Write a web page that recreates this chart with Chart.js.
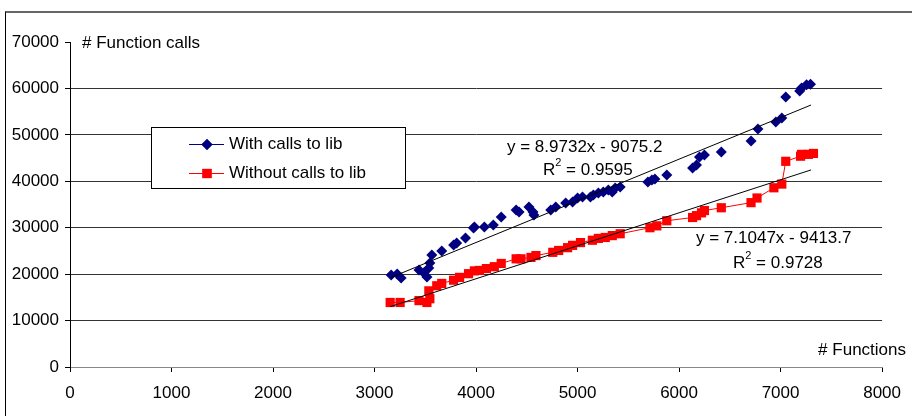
<!DOCTYPE html>
<html>
<head>
<meta charset="utf-8">
<script src="https://cdn.jsdelivr.net/npm/chart.js@4.4.1/dist/chart.umd.min.js"></script>
<style>
    html, body { margin: 0; padding: 0; background: #fff; }
    #wrap { position: relative; width: 912px; height: 416px; overflow: hidden; }
    #frame { position: absolute; left: 5px; top: 11px; right: -2px; bottom: -2px;
             border-left: 1px solid #000; border-top: 2px solid #666; }
    canvas { position: absolute; left: 0; top: 0; }
</style>
</head>
<body>
<div id="wrap">
    <div id="frame"></div>
    <canvas id="chart" width="912" height="416"></canvas>
</div>
<script>
// Series: number of functions vs number of function calls
const withCallsX = [3164, 3223, 3262, 3438, 3486, 3516, 3535, 3545, 3564, 3662,
    3779, 3809, 3896, 3975, 3984, 4082, 4170, 4248, 4395, 4424,
    4521, 4561, 4570, 4736, 4785, 4883, 4951, 5000, 5049, 5127,
    5156, 5205, 5254, 5303, 5342, 5371, 5420, 5693, 5732, 5762,
    5879, 6133, 6172, 6201, 6250, 6416, 6709, 6777, 6953, 7012,
    7051, 7188, 7207, 7256, 7295];
const withCallsY = [19817, 20032, 19170, 20894, 20248, 19386, 21325, 22402, 24125, 24986,
    26279, 26710, 27787, 29941, 30156, 30156, 30587, 32310, 33818, 33387,
    34464, 33387, 32741, 33818, 34464, 35326, 35541, 36403, 36618, 36618,
    37049, 37480, 37695, 38126, 37695, 38557, 38772, 39849, 40280, 40495,
    41357, 42865, 43511, 45234, 45665, 46311, 48680, 51265, 52773, 53635,
    58158, 59450, 60097, 60800, 60900];

const withoutCallsX = [3154, 3252, 3438, 3516, 3545, 3535, 3613, 3662, 3779, 3838,
    3926, 3984, 4033, 4102, 4180, 4248, 4395, 4443, 4541, 4590,
    4756, 4814, 4902, 4951, 5029, 5146, 5205, 5273, 5342, 5420,
    5713, 5781, 5879, 6133, 6172, 6221, 6250, 6416, 6709, 6768,
    6934, 7012, 7051, 7197, 7207, 7275, 7324];
const withoutCallsY = [13900, 13900, 14300, 13900, 14700, 16400, 17500, 18000, 18700, 19300,
    20100, 20700, 20800, 21200, 21600, 22300, 23300, 23300, 23600, 24000,
    24700, 25100, 25700, 26200, 26800, 27300, 27700, 27900, 28300, 28700,
    30000, 30400, 31500, 32200, 32600, 33200, 33700, 34300, 35400, 36400,
    38600, 39400, 44300, 45400, 45800, 45800, 46000];

// Linear trendlines as printed on the chart: [slope, intercept, R²]
const trendWith = [8.9732, -9075.2, 0.9595];
const trendWithout = [7.1047, -9413.7, 0.9728];
const trendRange = [3154, 7300];

const xTicks = [0, 1000, 2000, 3000, 4000, 5000, 6000, 7000, 8000];
const yTicks = [0, 10000, 20000, 30000, 40000, 50000, 60000, 70000];

const FONT = '"Liberation Sans", Arial, sans-serif';

function toPoints(xs, ys) {
    return xs.map((x, i) => ({ x: x, y: ys[i] }));
}

function trendPoints(t) {
    return trendRange.map(x => ({ x: x, y: t[0] * x + t[1] }));
}

// texts, legend box and axis captions
const notesPlugin = {
    id: 'notes',
    afterDraw(chart) {
        const c = chart.ctx;
        c.save();
        c.fillStyle = '#000';
        c.textBaseline = 'middle';
        c.font = '17px ' + FONT;
        c.textAlign = 'left';
        c.fillText('# Function calls', 82, 43);
        c.textAlign = 'right';
        c.fillText('# Functions', 906, 350);

        // equations
        c.textAlign = 'left';
        c.fillText('y = ' + trendWith[0].toFixed(4) + 'x - ' + (-trendWith[1]).toFixed(1), 507, 147);
        drawR2(c, 543, 170, trendWith[2].toFixed(4));
        c.fillText('y = ' + trendWithout[0].toFixed(4) + 'x - ' + (-trendWithout[1]).toFixed(1), 696, 238);
        drawR2(c, 733, 263, trendWithout[2].toFixed(4));

        // legend
        c.fillStyle = '#fff';
        c.fillRect(151, 127, 255, 62);
        c.strokeStyle = '#000';
        c.lineWidth = 1;
        c.strokeRect(151.5, 127.5, 254, 61);
        legendItem(c, 144, '#000080', 'rectRot', 'With calls to lib');
        legendItem(c, 173, '#ff0000', 'rect', 'Without calls to lib');
        c.restore();
    }
};

function drawR2(c, x, y, val) {
    c.font = '17px ' + FONT;
    c.fillText('R', x, y);
    const w = c.measureText('R').width;
    c.font = '11px ' + FONT;
    c.fillText('2', x + w, y - 7);
    const w2 = c.measureText('2').width;
    c.font = '17px ' + FONT;
    c.fillText(' = ' + val, x + w + w2, y);
}

function legendItem(c, y, color, style, text) {
    c.strokeStyle = color;
    c.lineWidth = 1;
    c.beginPath();
    c.moveTo(189, y + 0.5);
    c.lineTo(224, y + 0.5);
    c.stroke();
    c.fillStyle = color;
    Chart.helpers.drawPoint(c, { pointStyle: style, radius: style === 'rect' ? 6.5 : 5.5, borderWidth: 0 }, 207, y + 0.5);
    c.fill();
    c.fillStyle = '#000';
    c.font = '17px ' + FONT;
    c.textAlign = 'left';
    c.fillText(text, 229, y);
}

const ctx = document.getElementById('chart').getContext('2d');
new Chart(ctx, {
    type: 'scatter',
    data: {
        datasets: [
            {
                label: 'trend with',
                data: trendPoints(trendWith),
                showLine: true,
                borderColor: '#000',
                borderWidth: 1,
                pointRadius: 0
            },
            {
                label: 'trend without',
                data: trendPoints(trendWithout),
                showLine: true,
                borderColor: '#000',
                borderWidth: 1,
                pointRadius: 0
            },
            {
                label: 'With calls to lib',
                data: toPoints(withCallsX, withCallsY),
                pointStyle: 'rectRot',
                pointRadius: 5.5,
                backgroundColor: '#000080',
                borderColor: '#000080',
                borderWidth: 0
            },
            {
                label: 'Without calls to lib',
                data: toPoints(withoutCallsX, withoutCallsY),
                showLine: true,
                borderColor: '#ff0000',
                borderWidth: 1,
                pointStyle: 'rect',
                pointRadius: 6.5,
                pointBackgroundColor: '#ff0000',
                pointBorderColor: '#ff0000',
                pointBorderWidth: 0
            }
        ]
    },
    options: {
        responsive: false,
        animation: false,
        layout: { padding: { left: 0, right: 23, top: 42, bottom: 0 } },
        plugins: {
            legend: { display: false },
            tooltip: { enabled: false }
        },
        scales: {
            x: {
                type: 'linear',
                min: 0,
                max: 8000,
                afterBuildTicks: scale => { scale.ticks = xTicks.map(v => ({ value: v })); },
                afterFit: scale => { scale.height = 49; },
                grid: { drawOnChartArea: false, tickLength: 5, tickColor: '#000' },
                border: { color: '#888', width: 1 },
                ticks: {
                    color: '#000', font: { family: FONT, size: 17 }, padding: 11, maxRotation: 0,
                    callback: v => String(v)
                }
            },
            y: {
                min: 0,
                max: 70000,
                afterBuildTicks: scale => { scale.ticks = yTicks.map(v => ({ value: v })); },
                afterFit: scale => { scale.width = 70; },
                grid: {
                    color: c => (c.tick && (c.tick.value === 0 || c.tick.value === 70000)) ? 'rgba(0,0,0,0)' : '#333',
                    tickLength: 5,
                    tickColor: '#000'
                },
                border: { color: '#000', width: 1 },
                ticks: {
                    color: '#000', font: { family: FONT, size: 17 }, padding: 6,
                    callback: v => String(v)
                }
            }
        }
    },
    plugins: [notesPlugin]
});
</script>
</body>
</html>
